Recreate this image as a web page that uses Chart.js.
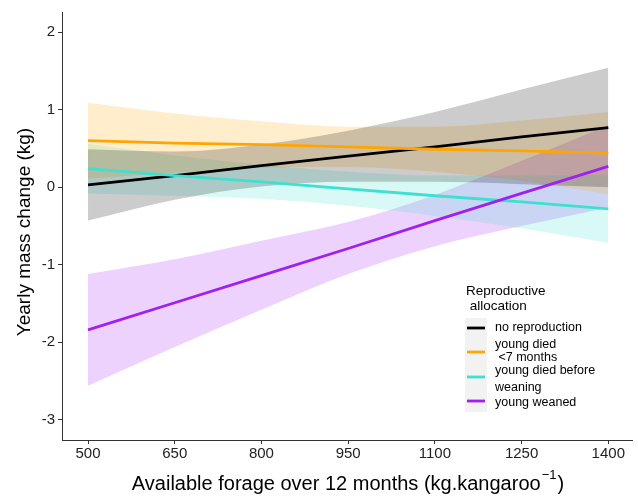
<!DOCTYPE html>
<html>
<head>
<meta charset="utf-8">
<script src="https://cdn.jsdelivr.net/npm/chart.js@4.4.1/dist/chart.umd.min.js"></script>
<style>
  html, body { margin: 0; padding: 0; background: #fff; }
  #wrap { width: 638px; height: 497px; }
</style>
</head>
<body>
<div id="wrap"><canvas id="chart" width="638" height="497"></canvas></div>
<script>
const forage = [500, 650, 800, 950, 1100, 1250, 1400];
const xTicks = [500, 650, 800, 950, 1100, 1250, 1400];
const yTicks = [-3, -2, -1, 0, 1, 2];

// no reproduction
const fitNone = [0.03, 0.15, 0.28, 0.40, 0.52, 0.65, 0.77];
const lowNone = [-0.43, -0.16, 0.01, 0.07, 0.07, 0.04, 0.00];
const highNone = [0.49, 0.46, 0.55, 0.73, 0.97, 1.26, 1.54];

// young died <7 months
const fitDied7 = [0.60, 0.57, 0.55, 0.52, 0.49, 0.47, 0.44];
const lowDied7 = [0.11, 0.19, 0.25, 0.26, 0.20, 0.08, -0.09];
const highDied7 = [1.09, 0.95, 0.85, 0.78, 0.78, 0.86, 0.97];

// young died before weaning
const fitDiedWean = [0.24, 0.15, 0.07, -0.02, -0.11, -0.19, -0.28];
const lowDiedWean = [-0.08, -0.11, -0.15, -0.24, -0.37, -0.53, -0.72];
const highDiedWean = [0.56, 0.41, 0.29, 0.20, 0.15, 0.15, 0.16];

// young weaned
const fitWeaned = [-1.84, -1.49, -1.14, -0.79, -0.43, -0.08, 0.27];
const lowWeaned = [-2.56, -2.06, -1.58, -1.12, -0.76, -0.50, -0.26];
const highWeaned = [-1.12, -0.93, -0.69, -0.45, -0.10, 0.34, 0.80];

const groupLabels = [['no reproduction'], ['young died', ' <7 months'], ['young died before', 'weaning'], ['young weaned']];
const groupColors = ['#000000', '#FFA500', '#40E0D0', '#A020F0'];
const ribbonColors = ['rgba(0,0,0,0.2)', 'rgba(255,165,0,0.2)', 'rgba(64,224,208,0.2)', 'rgba(160,32,240,0.2)'];

const fits = [fitNone, fitDied7, fitDiedWean, fitWeaned];
const lows = [lowNone, lowDied7, lowDiedWean, lowWeaned];
const highs = [highNone, highDied7, highDiedWean, highWeaned];

const FONT = '"Liberation Sans", Arial, Helvetica, sans-serif';

function pts(ys) {
    return forage.map((x, i) => ({ x: x, y: ys[i] }));
}

const datasets = [];
// ribbons: upper edge, then lower edge filled up to it
fits.forEach((f, g) => {
    datasets.push({
        data: pts(highs[g]), borderWidth: 0, pointRadius: 0, fill: false, order: 10,
        cubicInterpolationMode: 'monotone'
    });
    datasets.push({
        data: pts(lows[g]), borderWidth: 0, pointRadius: 0, fill: '-1',
        backgroundColor: ribbonColors[g], order: 10,
        cubicInterpolationMode: 'monotone'
    });
});
// fitted lines, later groups on top
fits.forEach((f, g) => {
    datasets.push({
        data: pts(f), borderColor: groupColors[g], borderWidth: 2.8,
        pointRadius: 0, fill: false, order: 4 - g
    });
});

// legend + axis titles drawn by hand (superscript, position inside panel)
const extras = {
    id: 'extras',
    afterDraw(chart) {
        const c = chart.ctx;
        c.save();
        c.fillStyle = '#000';
        c.textBaseline = 'middle';

        // y title
        c.save();
        c.translate(25, 232);
        c.rotate(-Math.PI / 2);
        c.textAlign = 'center';
        c.font = '19px ' + FONT;
        c.fillText('Yearly mass change (kg)', 0, 0);
        c.restore();

        // x title with superscript
        const a = 'Available forage over 12 months (kg.kangaroo';
        c.font = '20px ' + FONT;
        const wa = c.measureText(a).width;
        c.font = '13px ' + FONT;
        const ws = c.measureText('\u22121').width;
        c.font = '20px ' + FONT;
        const wc = c.measureText(')').width;
        let x0 = 347 - (wa + ws + wc) / 2;
        c.textAlign = 'left';
        c.fillText(a, x0, 484);
        c.font = '13px ' + FONT;
        c.fillText('\u22121', x0 + wa + 1, 475);
        c.font = '20px ' + FONT;
        c.fillText(')', x0 + wa + ws + 2, 484);

        // legend
        c.font = '13.5px ' + FONT;
        c.fillText('Reproductive', 466, 291);
        c.fillText(' allocation', 466, 306);
        c.fillStyle = '#f2f2f2';
        c.fillRect(465, 318, 22, 94);
        const keyY = [328, 352, 377, 401];
        const textY = [[328], [345, 358], [371, 388], [403]];
        c.font = '12.5px ' + FONT;
        groupLabels.forEach((lines, g) => {
            c.strokeStyle = groupColors[g];
            c.lineWidth = 2.8;
            c.beginPath();
            c.moveTo(467, keyY[g]);
            c.lineTo(485, keyY[g]);
            c.stroke();
            c.fillStyle = '#000';
            lines.forEach((t, k) => c.fillText(t, 495, textY[g][k]));
        });
        c.restore();
    }
};

new Chart(document.getElementById('chart'), {
    type: 'line',
    data: { datasets: datasets },
    options: {
        responsive: false,
        animation: false,
        devicePixelRatio: 1,
        layout: { padding: { top: 12, right: 6, left: 0, bottom: 0 } },
        plugins: {
            legend: { display: false },
            tooltip: { enabled: false },
            filler: { drawTime: 'beforeDatasetsDraw' }
        },
        scales: {
            x: {
                type: 'linear',
                min: 455,
                max: 1441,
                afterBuildTicks: s => { s.ticks = xTicks.map(v => ({ value: v })); },
                afterFit: s => { s.height = 57; },
                grid: { drawOnChartArea: false, drawTicks: true, tickLength: 4, color: '#333' },
                border: { display: true, color: '#333', width: 1 },
                ticks: {
                    color: '#222', padding: 1, maxRotation: 0,
                    font: { size: 15, family: FONT },
                    callback: v => String(v)
                }
            },
            y: {
                type: 'linear',
                min: -3.26,
                max: 2.26,
                afterBuildTicks: s => { s.ticks = yTicks.map(v => ({ value: v })); },
                afterFit: s => { s.width = 62; },
                grid: { drawOnChartArea: false, drawTicks: true, tickLength: 4, color: '#333' },
                border: { display: true, color: '#333', width: 1 },
                ticks: {
                    color: '#222', padding: 3,
                    font: { size: 15, family: FONT },
                    callback: v => String(v)
                }
            }
        }
    },
    plugins: [extras]
});
</script>
</body>
</html>
